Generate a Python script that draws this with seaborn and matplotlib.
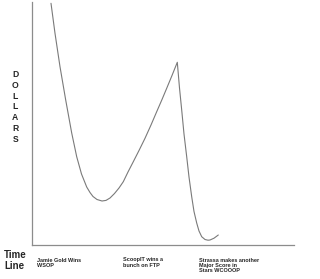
import matplotlib
matplotlib.use("Agg")
import matplotlib.pyplot as plt
import seaborn as sns
import pandas as pd

# Data (time units, dollars)
time = [19, 23, 28, 33.7, 39.7, 44.7, 49.5, 54.7, 58, 61, 65, 70, 74, 78, 82.5, 87, 91.3, 96, 101.3,
        107, 113, 119, 124.7, 130, 134.7, 140, 145.3,
        147.5, 149.7, 152, 154.7, 157, 159.7, 162, 164.7, 167, 169.7, 173, 176, 178, 182, 186.3]
dollars = [241.7, 211.7, 178.3, 145, 112, 88.3, 71, 58, 52.5, 48.5, 45.5, 44, 44.6, 47, 51.5, 57, 63.3, 73, 83.3,
           94.5, 106.7, 120, 133.3, 145.5, 156.7, 169.5, 182.7,
           157, 135, 111, 88.3, 68, 48.3, 33.5, 22, 14, 8.3, 5.5, 4.8, 5, 6.8, 10]
event_labels = ["Jamie Gold Wins\nWSOP", "ScoopIT wins a\nbunch on FTP",
                "Strassa makes another\nMajor Score in\nStars WCOOOP"]
event_times = [4.7, 91, 167]

df = pd.DataFrame({"time": time, "dollars": dollars})

sns.set_style("white")
plt.rcParams["font.family"] = ["Liberation Sans", "DejaVu Sans"]

fig = plt.figure(figsize=(3.2, 2.79), dpi=100)
ax = fig.add_axes([32 / 320, 34 / 279, 262 / 320, 243 / 279])
sns.lineplot(data=df, x="time", y="dollars", ax=ax, color="#7a7a7a", linewidth=0.8, sort=False)
ax.set_xlim(0, 262)
ax.set_ylim(0, 243)

for side in ["top", "right"]:
    ax.spines[side].set_visible(False)
for side in ["left", "bottom"]:
    ax.spines[side].set_color("#8c8c8c")
    ax.spines[side].set_linewidth(0.9)

ax.set_yticks([])
ax.set_xticks(event_times)
ax.set_xticklabels(event_labels, ha="left", va="top", fontsize=4.0, fontweight="bold", linespacing=1.1)
ax.tick_params(axis="x", length=0, pad=9)
ax.set_xlabel("")

ax.set_ylabel("D\nO\nL\nL\nA\nR\nS", rotation=0, fontsize=6.2, fontweight="bold",
              va="center", ha="center", linespacing=1.26)
ax.yaxis.set_label_coords(-0.064, 0.568)

fig.text(4 / 320, 1 - 250 / 279, "Time\nLine", fontsize=7, fontweight="bold", va="top", ha="left",
         linespacing=1.1)

fig.savefig("out.png", dpi=100, facecolor="white")
